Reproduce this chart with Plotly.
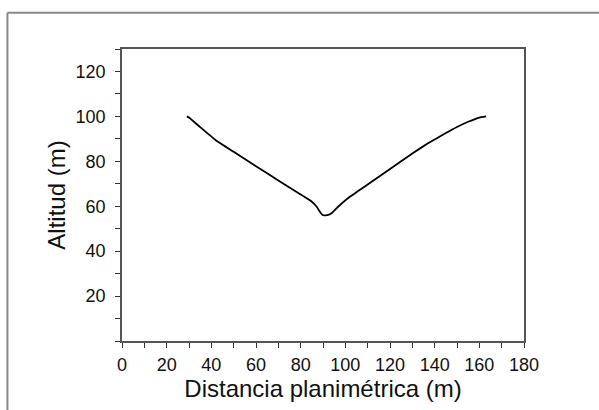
import plotly.graph_objects as go

distancia = [29, 30, 35, 42, 50, 60, 70, 80, 85, 87, 89, 90, 92, 94, 97, 102, 110, 120, 130, 137, 145, 150, 155, 160, 163]
altitud = [100, 99.5, 95.2, 89.4, 84.2, 77.8, 71.5, 65.2, 62, 60, 57, 56, 56, 57, 60, 64.2, 69.7, 76.6, 83.5, 88, 92.6, 95.3, 97.6, 99.5, 100]

x_ticks = list(range(0, 181, 20))
y_ticks = list(range(20, 121, 20))

fig = go.Figure()
fig.add_trace(go.Scatter(x=distancia, y=altitud, mode="lines",
                         line=dict(color="black", width=1.8, shape="spline", smoothing=0.3),
                         hoverinfo="skip", showlegend=False))

font_family = "Liberation Sans, Arial, sans-serif"
fig.update_layout(
    width=599, height=410,
    margin=dict(l=122, r=75, t=49, b=69),
    paper_bgcolor="white", plot_bgcolor="white",
    font=dict(family=font_family, color="#111"),
    xaxis=dict(range=[0, 180], tickvals=x_ticks, ticks="outside", ticklen=5,
               tickcolor="#333", showgrid=False, zeroline=False,
               showline=True, linecolor="#555", linewidth=1.5, mirror=True,
               minor=dict(dtick=10, tick0=0, ticks="outside", ticklen=5, tickcolor="#333", showgrid=False),
               tickfont=dict(size=18, color="#111"), ticklabelstandoff=2,
               title=dict(text="Distancia planimétrica (m)", font=dict(size=24, color="#111"), standoff=6)),
    yaxis=dict(range=[0, 130], tickvals=y_ticks, ticks="outside", ticklen=5,
               tickcolor="#333", showgrid=False, zeroline=False,
               showline=True, linecolor="#555", linewidth=1.5, mirror=True,
               minor=dict(dtick=10, tick0=0, ticks="outside", ticklen=5, tickcolor="#333", showgrid=False),
               tickfont=dict(size=18, color="#111"), ticklabelstandoff=6,
               title=dict(text="Altitud (m)", font=dict(size=24, color="#111"), standoff=3)),
    shapes=[
        dict(type="line", xref="paper", yref="paper", x0=-0.285, x1=1.3, y0=1.124, y1=1.124,
             line=dict(color="#888", width=2)),
        dict(type="line", xref="paper", yref="paper", x0=-0.285, x1=-0.285, y0=-0.3, y1=1.124,
             line=dict(color="#888", width=2)),
    ],
)

fig.write_html("out.html")
